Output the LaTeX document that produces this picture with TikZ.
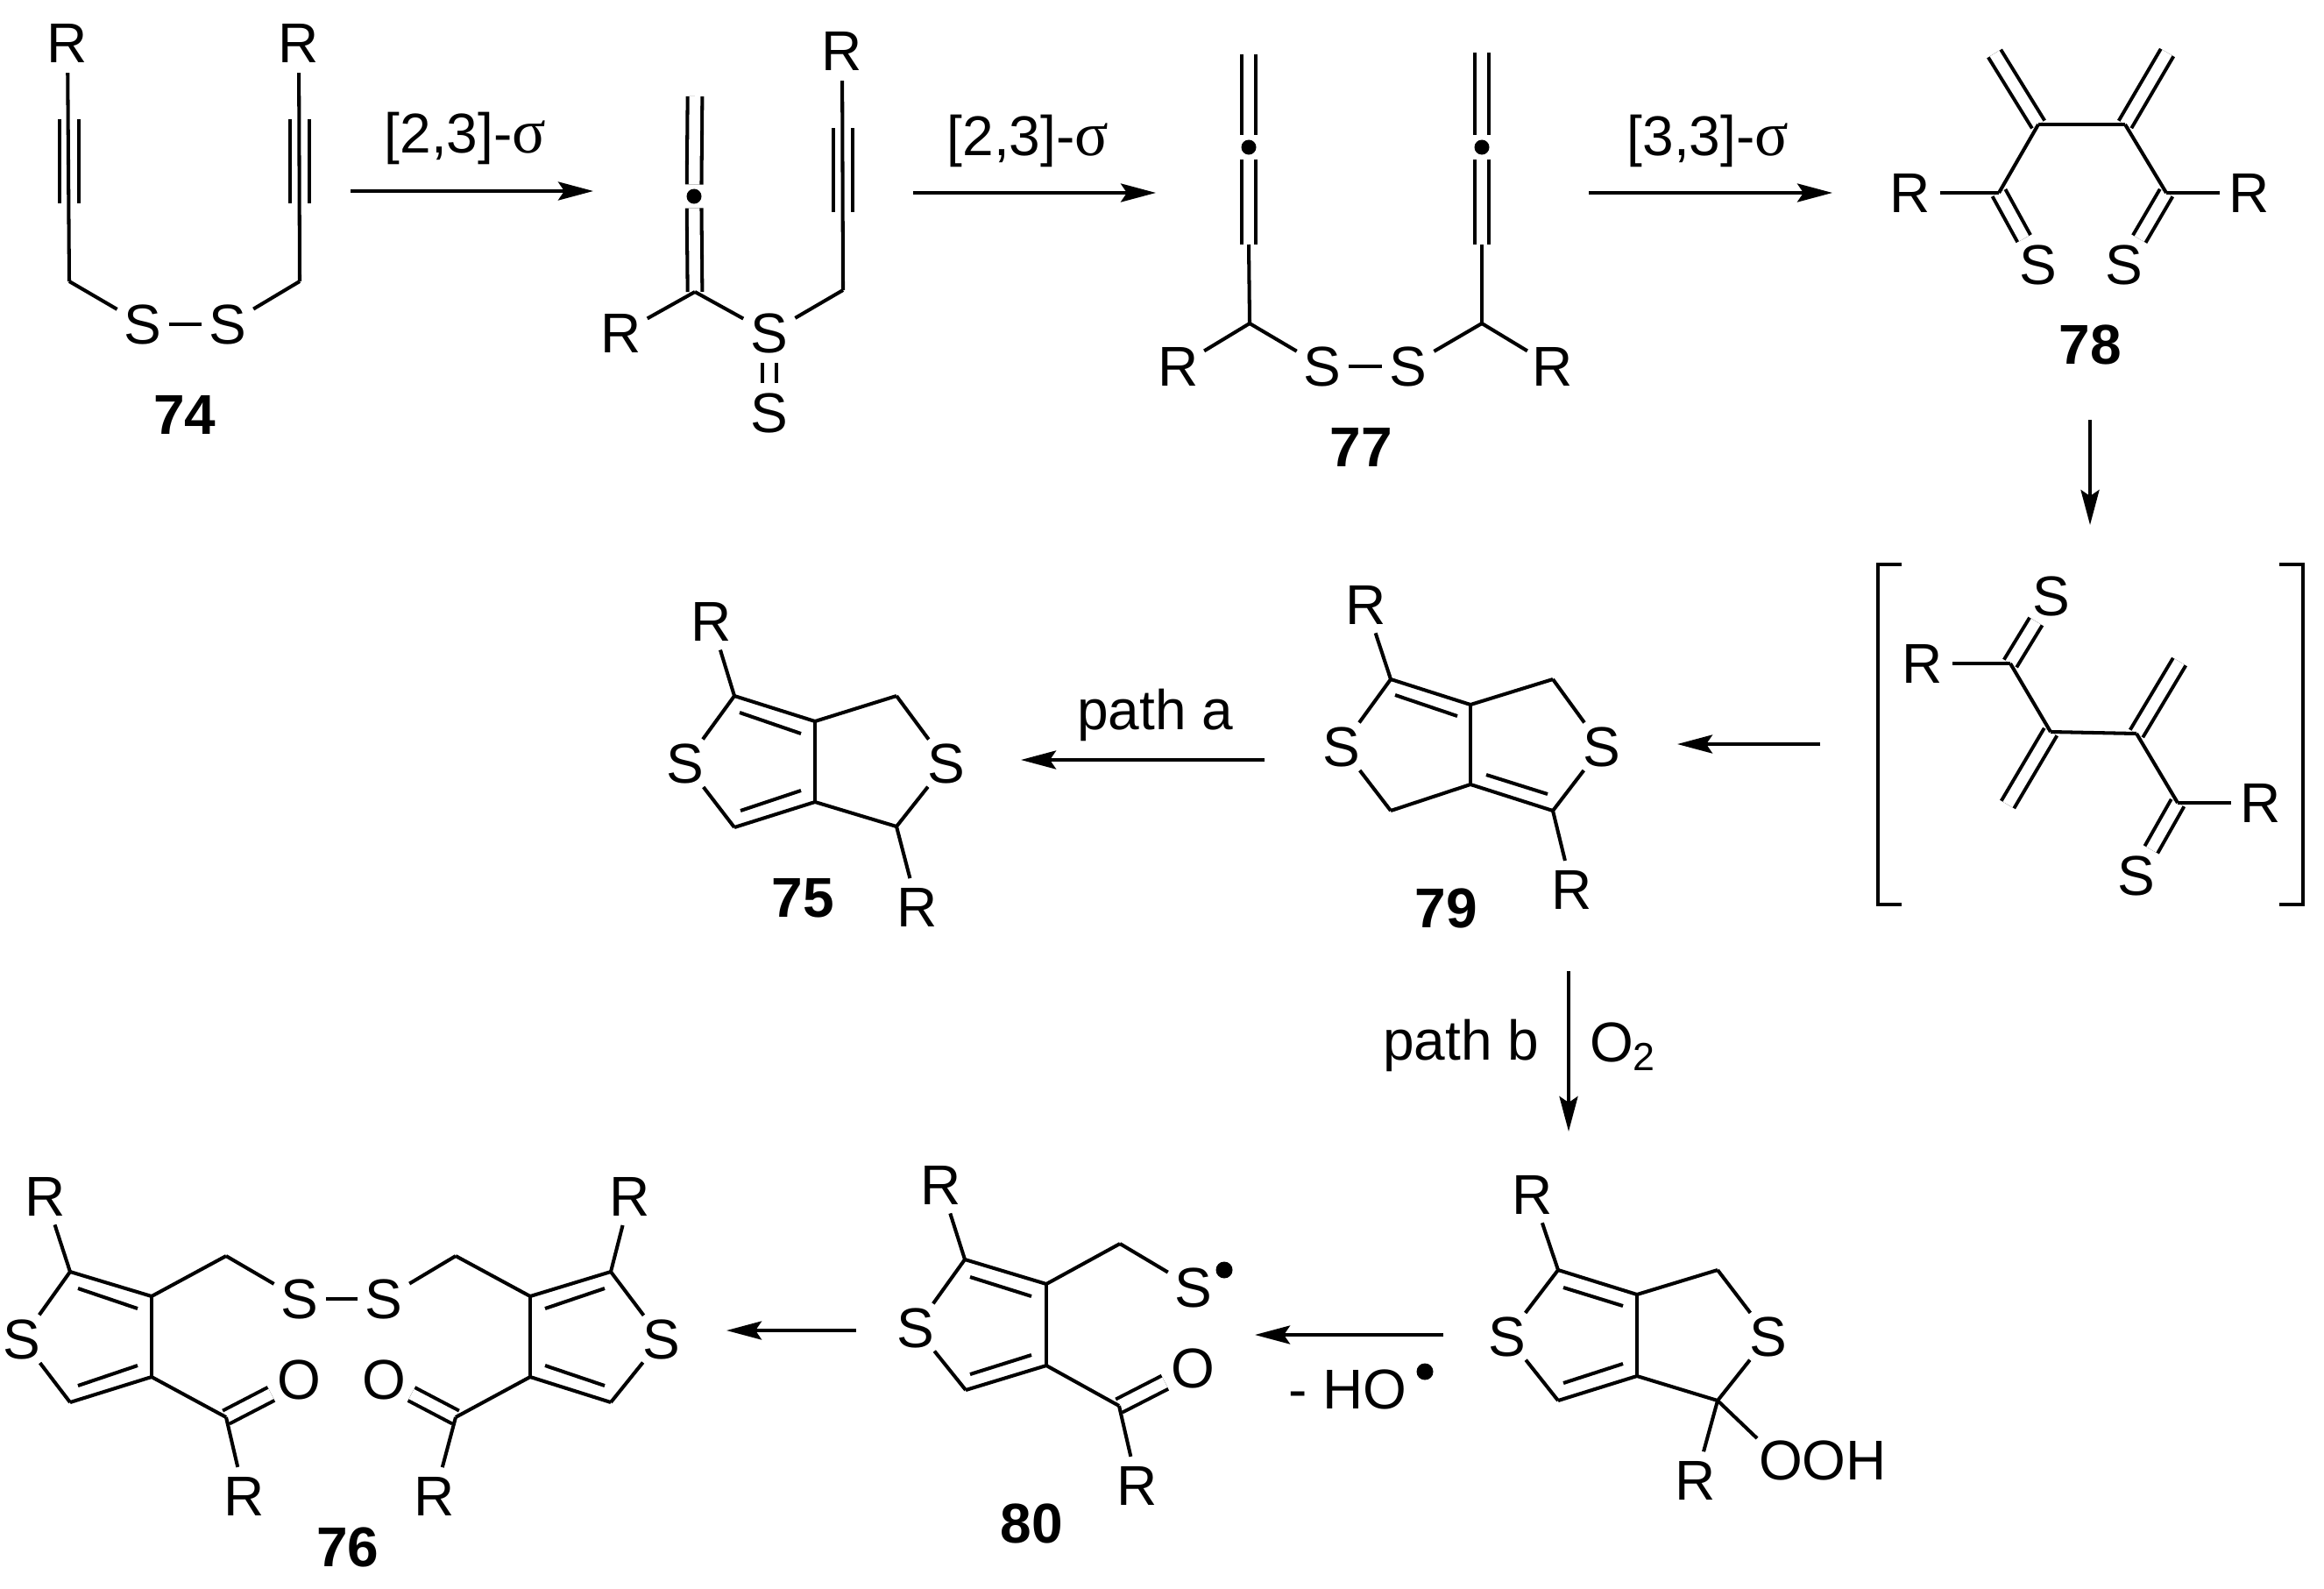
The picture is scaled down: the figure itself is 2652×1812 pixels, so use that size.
\documentclass[tikz,border=0pt]{standalone}
\usepackage{fontspec}
\setmainfont{Liberation Sans}
\newfontfamily\sigmafont[Scale=1.12]{Liberation Serif}
\usetikzlibrary{arrows.meta}
\newcommand{\chemfont}{\fontsize{18.2}{22}\selectfont}
\newcommand{\sgm}{{\sigmafont σ}}
\tikzset{
	atom/.style={circle,inner sep=0pt,minimum size=0.64cm},
	lbl/.style={inner sep=0pt,font=\chemfont\bfseries},
	txt/.style={inner sep=0pt,anchor=base},
	dotnode/.style={circle,fill,inner sep=0pt,minimum size=0.17cm,outer sep=0.05cm},
	raddot/.style={circle,fill,inner sep=0pt,minimum size=0.19cm},
	dbl/.style={double,double distance=3.6pt},
	rxn/.style={-{Stealth[length=0.4cm,width=0.21cm,inset=0.07cm]}},
	ssbond/.style={shorten <=-0.04cm,shorten >=-0.04cm}
}
\begin{document}
\begin{tikzpicture}[x=0.01cm,y=-0.01cm,line width=1.15pt,every node/.style={font=\chemfont}]
	\useasboundingbox (0,0) rectangle (2652,1812);
	\foreach \n/\x/\y/\t in {r74a/77/49/R,r74b/341/49/R,s74a/163/370/S,s74b/260/370/S,
			ri1/709/380/R,si1/878/380/S,si2/878/471/S,ri2/961/58/R,
			r77a/1345/418/R,s77a/1509/418/S,s77b/1607/418/S,r77b/1772/418/R,
			r78a/2180/220/R,r78b/2567/220/R,s78a/2326/302/S,s78b/2424/302/S,
			rb1/2194/757/R,sb1/2341/680/S,rb2/2580/916/R,sb2/2438/999/S,
			r79a/1559/690/R,r79b/1794/1015/R,s79a/1531/852/S,s79b/1828/852/S,
			r75a/812/709/R,r75b/1047/1035/R,s75a/782/871/S,s75b/1080/871/S,
			rpa/1749/1363/R,rpb/1935/1689/R,spa/1720/1525/S,spb/2018/1525/S,
			r80a/1074/1352/R,r80b/1298/1695/R,s80a/1045/1515/S,s80b/1362/1469/S,o80/1361/1561/O,
			r76a/52/1365/R,r76b/279/1707/R,r76c/496/1707/R,r76d/719/1365/R,
			s76a/25/1528/S,s76b/342/1482/S,s76c/438/1482/S,s76d/755/1528/S,
			o76a/341/1574/O,o76b/438/1574/O}
		\node[atom] (\n) at (\x,\y) {\t};
	\node[inner sep=0pt] (ooh) at (2080,1666) {OOH};
	\foreach \n/\x/\y in {c74a/79/321,c74b/342/321,
			ci1/793/110,ci2/793/333,ci3/962/331,
			c77a/1426/369,c77b/1691/369,t77a/1425/62,t77b/1691/60,j77a/1425/279,j77b/1691/279,
			c78a/2326/142,c78b/2425/142,m78a/2276/61,m78b/2473/60,c78c/2281/220,c78d/2472/220,
			cb1/2294/757,cb2/2340/835,cb3/2438/837,cb4/2485/916,mb2/2291/918,mb3/2487/755,
			a79/1587/775,b79/1678/804,c79/1772/775,d79/1678/895,e79/1772/925,f79/1587/925,
			a75/838/794,b75/930/823,c75/1023/794,d75/930/915,e75/1023/943,f75/838/944,
			apx/1778/1449,bpx/1868/1477,cpx/1960/1449,dpx/1868/1570,epx/1960/1598,fpx/1778/1598,
			oohend/2005/1641,
			a80/1101/1437,b80/1194/1465,c80/1278/1419,d80/1194/1558,e80/1277/1604,f80/1102/1586,
			a76/80/1451,b76/173/1479,c76/258/1433,d76/173/1571,e76/258/1617,f76/80/1600,
			g76/520/1433,h76/605/1479,i76/697/1451,j76/605/1571,k76/697/1600,l76/520/1617}
		\coordinate (\n) at (\x,\y);
	\foreach \n/\x/\y in {di/792/224,d77a/1425/168,d77b/1691/168}
		\node[dotnode] (\n) at (\x,\y) {};
	\node[raddot] (radS) at (1397,1449) {};
	\node[raddot] (radHO) at (1626,1565) {};
	\foreach \a/\b in {ci1/di,di/ci2,si1/si2,t77a/d77a,d77a/j77a,t77b/d77b,d77b/j77b,
			c78a/m78a,c78b/m78b,c78c/s78a,c78d/s78b,
			cb1/sb1,cb2/mb2,cb3/mb3,cb4/sb2,
			e80/o80,e76/o76a,l76/o76b}
		\draw[dbl] (\a) -- (\b);
	\foreach \a/\b in {r74a/c74a,r74b/c74b,c74a/s74a,c74b/s74b,
			ci2/ri1,ci2/si1,si1/ci3,ci3/ri2,
			j77a/c77a,j77b/c77b,c77a/r77a,c77a/s77a,c77b/s77b,c77b/r77b,
			c78a/c78b,c78a/c78c,c78b/c78d,c78c/r78a,c78d/r78b,
			rb1/cb1,cb1/cb2,cb2/cb3,cb3/cb4,cb4/rb2,
			r79a/a79,s79a/a79,a79/b79,b79/c79,c79/s79b,s79b/e79,e79/d79,d79/f79,f79/s79a,b79/d79,e79/r79b,
			r75a/a75,s75a/a75,a75/b75,b75/c75,c75/s75b,s75b/e75,e75/d75,d75/f75,f75/s75a,b75/d75,e75/r75b,
			rpa/apx,spa/apx,apx/bpx,bpx/cpx,cpx/spb,spb/epx,epx/dpx,dpx/fpx,fpx/spa,bpx/dpx,epx/rpb,epx/oohend,
			r80a/a80,s80a/a80,a80/b80,b80/c80,c80/s80b,b80/d80,d80/e80,d80/f80,f80/s80a,e80/r80b,
			r76a/a76,s76a/a76,a76/b76,b76/c76,c76/s76b,b76/d76,d76/e76,d76/f76,f76/s76a,e76/r76b,
			r76d/i76,s76d/i76,i76/h76,h76/g76,g76/s76c,h76/j76,j76/l76,j76/k76,k76/s76d,l76/r76c}
		\draw (\a) -- (\b);
	\draw[ssbond] (s74a) -- (s74b);
	\draw[ssbond] (s77a) -- (s77b);
	\draw[ssbond] (s76b) -- (s76c);
	\foreach \n/\xa/\ya/\xb/\yb in {i79a/1592/793/1663/817,i79b/1696/884/1766/906,
			i75a/844/813/914/837,i75b/845/925/914/902,
			ipa/1784/1469/1852/1490,ipb/1784/1578/1852/1556,
			i80a/1107/1457/1177/1479,i80b/1107/1568/1177/1546,
			i76a/89/1470/157/1493,i76b/89/1581/157/1558,
			i76c/622/1493/690/1470,i76d/622/1558/690/1581}{
			\coordinate (\n s) at (\xa,\ya);
			\coordinate (\n e) at (\xb,\yb);
			\draw (\n s) -- (\n e);
		}
	\foreach \n/\x/\ya/\yb in {t74a/79/136/232,t74b/342/136/232,ti/962/146/242}{
			\coordinate (\n l1) at (\x-11,\ya);
			\coordinate (\n l2) at (\x-11,\yb);
			\coordinate (\n r1) at (\x+11,\ya);
			\coordinate (\n r2) at (\x+11,\yb);
			\draw (\n l1) -- (\n l2);
			\draw (\n r1) -- (\n r2);
		}
	\draw (2170,644) -- (2143,644) -- (2143,1032) -- (2170,1032);
	\draw (2601,644) -- (2628,644) -- (2628,1032) -- (2601,1032);
	\foreach \n/\xa/\ya/\xb/\yb in {ar1/400/218/677/218,ar2/1042/220/1319/220,ar3/1813/220/2091/220,
			ar4/2385/479/2385/599,ar5/2077/849/1914/849,ar6/1443/867/1165/867,
			ar7/1790/1108/1790/1291,ar8/1647/1523/1432/1523,ar9/977/1518/829/1518}{
			\coordinate (\n s) at (\xa,\ya);
			\coordinate (\n e) at (\xb,\yb);
			\draw[rxn] (\n s) -- (\n e);
		}
	\foreach \t/\x/\y in {74/211/473,75/916/1025,76/397/1765,77/1553/510,78/2385/393,79/1650/1036,80/1177/1738}
		\node[lbl] (l\t) at (\x,\y) {\t};
	\node[txt] (cond1) at (531,174) {[2,3]-\sgm};
	\node[txt] (cond2) at (1173,177) {[2,3]-\sgm};
	\node[txt] (cond3) at (1949,177) {[3,3]-\sgm};
	\node[txt] (patha) at (1318,832) {path a};
	\node[txt] (pathb) at (1667,1209) {path b};
	\node[txt,anchor=base west] (otwo) at (1812,1211) {O\textsubscript{2}};
	\node[txt,anchor=base west] (holoss) at (1468,1607) {- HO};
\end{tikzpicture}
\end{document}
